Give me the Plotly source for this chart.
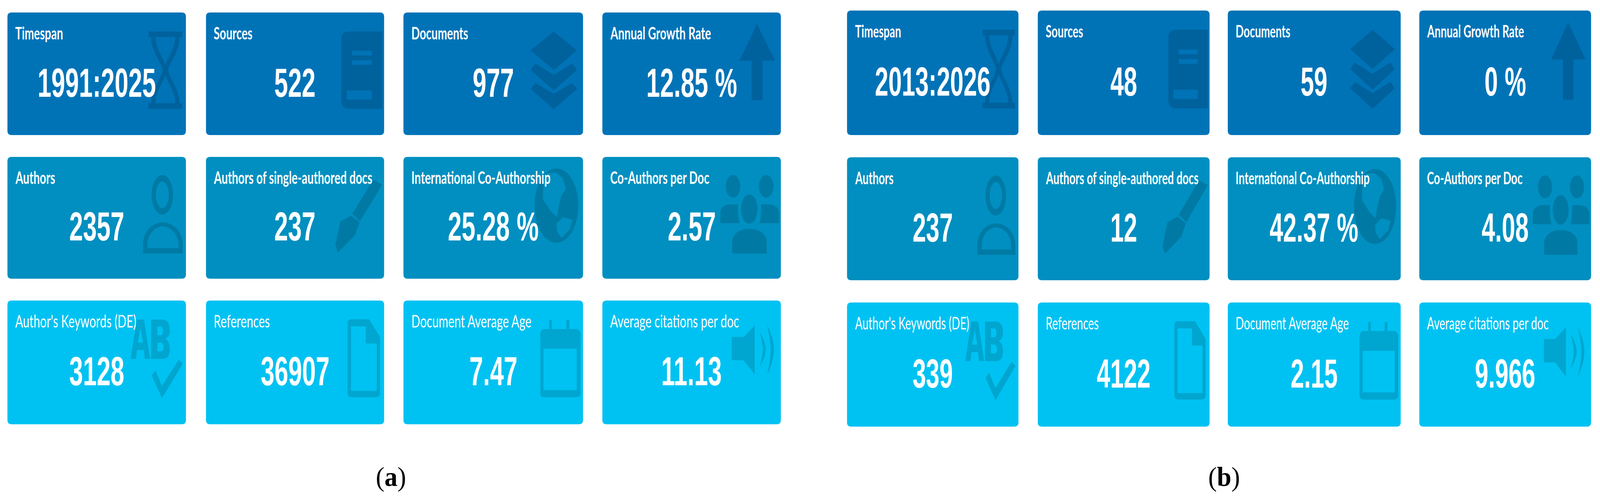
"""
Main information dashboards (a) and (b), value boxes with faint icons
"""
import json
import re
import plotly.graph_objects as go

# Box titles, row by row
titles = [
    "Timespan", "Sources", "Documents", "Annual Growth Rate",
    "Authors", "Authors of single-authored docs", "International Co-Authorship", "Co-Authors per Doc",
    "Author's Keywords (DE)", "References", "Document Average Age", "Average citations per doc",
]
values_a = [
    "1991:2025", "522", "977", "12.85 %",
    "2357", "237", "25.28 %", "2.57",
    "3128", "36907", "7.47", "11.13",
]
values_b = [
    "2013:2026", "48", "59", "0 %",
    "237", "12", "42.37 %", "4.08",
    "339", "4122", "2.15", "9.966",
]
panel_letters = ["a", "b"]

# Layout of the boxes, in page pixels
WIDTH, HEIGHT = 4303, 1281
cols_a = [(20, 500), (554, 1033), (1085, 1568), (1620, 2100)]
cols_b = [(2278, 2739), (2791, 3253), (3302, 3767), (3817, 4279)]
rows_a = [(32, 346), (402, 714), (770, 1087)]
rows_b = [(27, 346), (403, 718), (775, 1093)]
label_x = [1052, 3292]
label_y = 1221
row_colors = ["#0073b7", "#008fc0", "#00c2f2"]
ICON_COLOR = "rgba(0,0,0,0.14)"
TITLE_FONT = "Lato"
VALUE_FONT = "Liberation Sans"


def ell(cx, cy, rx, ry):
    k = 0.5523
    return (f"M{cx - rx} {cy} C{cx - rx} {cy - k * ry} {cx - k * rx} {cy - ry} {cx} {cy - ry} "
            f"C{cx + k * rx} {cy - ry} {cx + rx} {cy - k * ry} {cx + rx} {cy} "
            f"C{cx + rx} {cy + k * ry} {cx + k * rx} {cy + ry} {cx} {cy + ry} "
            f"C{cx - k * rx} {cy + ry} {cx - rx} {cy + k * ry} {cx - rx} {cy} Z ")


# Icons in percent of the box width and height
icons = [
    # hourglass
    "M79 15.4 L98 15.4 L98 20 L96.5 20 C96.5 32 91 40 90 47 C91 54 96.5 64 96.5 74 L98 74 L98 78.6 "
    "L79 78.6 L79 74 L80.5 74 C80.5 64 86 54 87 47 C86 40 80.5 32 80.5 20 L79 20 Z "
    "M83 20 L94 20 C94 30 89.5 37 88.5 43 C87.5 37 83 30 83 20 Z "
    "M83 74 L94 74 C94 64 89.5 57 88.5 51 C87.5 57 83 64 83 74 Z",
    # book
    "M80 15.4 L99 15.4 L99 78.6 L80 78.6 C77.5 78.6 76 76 76 73 L76 21 C76 18 77.5 15.4 80 15.4 Z "
    "M82 31.3 L93 31.3 L93 35 L82 35 Z M82 39 L93 39 L93 42.7 L82 42.7 Z "
    "M79 63.6 L93 63.6 L93 71 L79 71 Z",
    # layers
    "M83.7 15.4 L96.7 31 L83.7 47 L70.8 31 Z "
    "M73.5 41.6 L83.7 50.8 L94 41.6 L96.7 47 L83.7 63.6 L70.8 47 Z "
    "M73.5 57.3 L83.7 66.3 L94 57.3 L96.7 62.4 L83.7 79 L70.8 62.4 Z",
    # arrow up
    "M86.6 9.2 L96.8 39.3 L89.8 39.3 L89.8 71.6 L83.6 71.6 L83.6 39.3 L76.8 39.3 Z",
    # person
    ell(86.8, 31.1, 6, 16.3) + ell(86.8, 31.1, 3.6, 10.9)
    + "M76 79.3 L76 72 C76 60 82 53.7 87 53.7 C92 53.7 98.2 60 98.2 72 L98.2 79.3 Z "
      "M78.5 75 L78.5 72 C78.5 63 83 57 87 57 C91 57 95.8 63 95.8 72 L95.8 75 Z",
    # pen
    "M93.8 18.7 L99 22.5 L86.5 52.9 L82.1 46.7 Z "
    "M81.4 48.2 L86.2 53.7 L83.6 64.5 L74 78.5 L72.6 72.3 L75.5 52.9 Z",
    # globe with the two light continents
    ell(85.2, 40, 12.2, 30.5)
    + "M80 13.2 L85.2 13.2 L88.7 17.5 L90.4 26.1 L88 31.4 L86.2 42.1 L85.6 49.6 L81.8 44.2 L77.6 34.6 L78 20.7 Z "
      "M85.2 54.9 L88.7 49.6 L94.2 51.7 L92.8 59.2 L88 66.6 L85.6 61.3 Z",
    # group
    ell(73.2, 24.1, 4.1, 9.3) + ell(91.8, 24.1, 4.1, 9.3) + ell(82.3, 42.8, 4.6, 12)
    + "M72.7 79.3 L72.7 70 C72.7 63 77 59.1 82.4 59.1 C88 59.1 92.1 63 92.1 70 L92.1 79.3 Z "
      "M66.1 54.4 L66.1 46 C66.1 41 69 38.9 72 38.9 L76 38.9 C76 44 76 50 77 54.4 Z "
      "M88 54.4 C89 50 89 44 89 38.9 L93 38.9 C96 38.9 99 41 99 46 L99 54.4 Z",
    # AB and check mark
    "M69 47.2 L72.5 15.3 L76.5 15.3 L80 47.2 L77 47.2 L76.4 40 L72.6 40 L72 47.2 Z "
    "M73 34 L76 34 L74.5 22 Z "
    "M80.5 15.3 L87 15.3 C90 15.3 91 20 91 24 C91 28 90 30 88.5 31 C90 32 91 35 91 39 C91 44 90 47.2 87 47.2 L80.5 47.2 Z "
    "M84 21 L84 28 L86 28 C87.5 28 87.5 21 86 21 Z M84 34 L84 41 L86 41 C88 41 88 34 86 34 Z "
    "M80.8 60.5 L83 56.5 L86.5 69 L96 47.8 L98.3 51 L86.6 78.9 Z",
    # document with folded corner
    "M81.5 15.1 L91.6 15.1 L97.7 29.4 L97.7 75 C97.7 77 96.5 78.2 95 78.2 L82 78.2 C80.5 78.2 79.5 77 79.5 75 L79.5 18 C79.5 16 80.5 15.1 81.5 15.1 Z "
    "M81.4 20.9 L89.7 20.9 L89.7 34.7 L95.9 34.7 L95.9 73 L81.4 73 Z",
    # calendar
    "M78.5 23 L81.2 23 L81.2 15.8 L82.7 15.8 L82.7 23 L90.7 23 L90.7 15.8 L92.4 15.8 L92.4 23 L96 23 "
    "C97.6 23 98.6 25 98.6 27 L98.6 75 C98.6 77 97.6 78.2 96 78.2 L78.5 78.2 C77 78.2 76.2 77 76.2 75 L76.2 27 C76.2 25 77 23 78.5 23 Z "
    "M78 38.9 L96.5 38.9 L96.5 72.4 L78 72.4 Z",
    # speaker
    "M72.5 29.4 L79.1 29.4 L85.4 20 L85.4 59.9 L79.1 48.3 L72.5 48.3 Z "
    "M88.2 25.2 C90.8 32 91.6 36 91.6 39.4 C91.6 43 90.8 47 88.2 53.6 C89.2 47 89.9 43 89.9 39.4 C89.9 36 89.2 32 88.2 25.2 Z "
    "M92.3 19.4 C95 28 96.1 34 96.1 39.4 C96.1 45 95 52 92.3 60.4 C93.5 52 94.3 45 94.3 39.4 C94.3 34 93.5 28 92.3 19.4 Z",
]


def icon_path(path, left, right, top, bottom):
    # percent of the box -> page pixels
    res, is_x = [], True
    for tok in re.findall(r"[MLCZ]|-?\d+\.?\d*", path):
        if tok in "MLCZ":
            res.append(tok)
            is_x = True
        elif is_x:
            res.append(f"{left + (right - left) * float(tok) / 100:.1f}")
            is_x = False
        else:
            res.append(f"{top + (bottom - top) * float(tok) / 100:.1f}")
            is_x = True
    return " ".join(res)


def box_path(x0, x1, y0, y1, r=11):
    return (f"M{x0 + r} {y0} L{x1 - r} {y0} Q{x1} {y0} {x1} {y0 + r} L{x1} {y1 - r} Q{x1} {y1} {x1 - r} {y1} "
            f"L{x0 + r} {y1} Q{x0} {y1} {x0} {y1 - r} L{x0} {y0 + r} Q{x0} {y0} {x0 + r} {y0} Z")


fig = go.Figure()
shapes, annotations = [], []
squeeze = []  # horizontal squeeze of each annotation, the source picture is stretched upright

# squeeze factors: bold titles, regular titles, values
for cols, rows, values, bold_sq, thin_sq, value_sq in [(cols_a, rows_a, values_a, 0.68, 0.71, 0.64),
                                                       (cols_b, rows_b, values_b, 0.655, 0.67, 0.625)]:
    for i, value in enumerate(values):
        x0, x1 = cols[i % 4]
        y0, y1 = rows[i // 4]
        shapes.append(dict(type="path", path=box_path(x0, x1, y0, y1), fillcolor=row_colors[i // 4],
                           line_width=0, layer="below"))
        shapes.append(dict(type="path", path=icon_path(icons[i], x0, x1, y0, y1), fillcolor=ICON_COLOR,
                           line_width=0, layer="below"))
        annotations.append(dict(x=x0 + 19, y=y0 + 52, text=titles[i], showarrow=False, xanchor="left",
                                yanchor="middle", font=dict(family=TITLE_FONT, size=44, color="white",
                                                            weight="bold" if i < 8 else "normal")))
        squeeze.append(bold_sq if i < 8 else thin_sq)
        annotations.append(dict(x=(x0 + x1) / 2, y=y0 + 0.572 * (y1 - y0), text=value, showarrow=False,
                                xanchor="center", yanchor="middle",
                                font=dict(family=VALUE_FONT, size=104, color="white", weight="bold")))
        squeeze.append(value_sq)

for letter, x in zip(panel_letters, label_x):
    annotations.append(dict(x=x, y=label_y, showarrow=False, xanchor="center", yanchor="middle",
                            text=f"(<b>{letter}</b>)",
                            font=dict(family="Liberation Serif", size=70, color="black")))
    squeeze.append(1)

fig.update_layout(
    autosize=True,
    margin=dict(l=0, r=0, t=0, b=0),
    paper_bgcolor="white",
    plot_bgcolor="white",
    showlegend=False,
    shapes=shapes,
    annotations=annotations,
    xaxis=dict(range=[0, WIDTH], visible=False),
    yaxis=dict(range=[HEIGHT, 0], visible=False),
)

# Text sizes follow the window, so the boxes and their texts stay in proportion
post_script = """
document.body.style.margin = '0';
var gd = document.querySelector('.plotly-graph-div');
var sq = %s;
function squeezeText() {
  var sx = gd.clientWidth / %d, sy = gd.clientHeight / %d;
  gd.querySelectorAll('.annotation').forEach(function (a) {
    var i = +a.getAttribute('data-index');
    var t = a.querySelector('text');
    if (!t) return;
    t.removeAttribute('transform');
    var b = t.getBBox();
    var ax = gd.layout.annotations[i].xanchor === 'left' ? b.x : b.x + b.width / 2;
    var ay = b.y + b.height / 2;
    t.setAttribute('transform', 'translate(' + ax + ' ' + ay + ') scale(' + (sq[i] * sx) + ' ' + sy + ') translate(' + (-ax) + ' ' + (-ay) + ')');
  });
}
gd.on('plotly_afterplot', squeezeText);
squeezeText();
""" % (json.dumps(squeeze), WIDTH, HEIGHT)

fig.write_html("out.html", post_script=post_script, default_width="100vw", default_height="100vh",
               config={"responsive": True, "displayModeBar": False})
